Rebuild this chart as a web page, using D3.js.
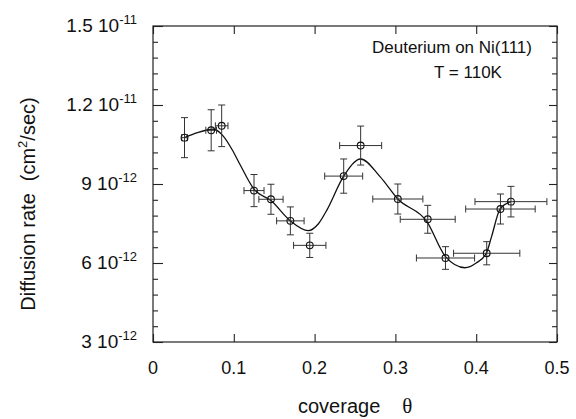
<!DOCTYPE html>
<html>
<head>
<meta charset="utf-8">
<script src="https://cdn.jsdelivr.net/npm/d3@7"></script>
<style>
  body { margin: 0; background: #fff; }
  text { font-family: "Liberation Sans", Arial, Helvetica, sans-serif; fill: #111; }
</style>
</head>
<body>
<div id="chart"></div>
<script>
// measured points (rate in units of 1e-12 cm^2/sec)
const coverage    = [0.039, 0.072, 0.085, 0.125, 0.146, 0.170, 0.194, 0.236, 0.257, 0.303, 0.340, 0.362, 0.413, 0.430, 0.443];
const rate        = [10.76, 11.04, 11.21, 8.75, 8.42, 7.60, 6.67, 9.30, 10.46, 8.43, 7.66, 6.19, 6.37, 8.05, 8.33];
const rateErr     = [0.76, 0.78, 0.79, 0.61, 0.57, 0.53, 0.46, 0.65, 0.74, 0.57, 0.53, 0.43, 0.44, 0.57, 0.58];
const coverageErr = [0.0035, 0.0066, 0.0078, 0.0124, 0.015, 0.017, 0.020, 0.0235, 0.026, 0.031, 0.034, 0.036, 0.041, 0.043, 0.0445];

// smooth guide curve
const curveX = [0.039, 0.055, 0.075, 0.087, 0.098, 0.108, 0.125, 0.146, 0.170, 0.192, 0.205, 0.215, 0.236, 0.257, 0.281, 0.303, 0.339, 0.362, 0.386, 0.400, 0.4125, 0.419, 0.4295, 0.443];
const curveY = [10.76, 10.95, 11.08, 10.82, 10.3, 9.72, 8.8, 8.37, 7.6, 7.23, 7.5, 8.0, 9.3, 9.95, 9.28, 8.43, 7.57, 6.24, 5.82, 6.0, 6.37, 7.0, 8.05, 8.33];

// tick labels
const xTicks = [0, 0.1, 0.2, 0.3, 0.4, 0.5];
const yTicks = [3, 6, 9, 12, 15];
const yTickMain = ["3 10", "6 10", "9 10", "1.2 10", "1.5 10"];
const yTickExp  = ["-12", "-12", "-12", "-11", "-11"];

const width = 576, height = 419;
const margin = { top: 26, right: 19, bottom: 77, left: 153 };
const w = width - margin.left - margin.right;
const h = height - margin.top - margin.bottom;

const svg = d3.select("#chart").append("svg")
  .attr("width", width)
  .attr("height", height);

const g = svg.append("g")
  .attr("transform", `translate(${margin.left},${margin.top})`);

const x = d3.scaleLinear().domain([0, 0.5]).range([0, w]);
const y = d3.scaleLinear().domain([3, 15]).range([h, 0]);

// frame
g.append("rect")
  .attr("width", w).attr("height", h)
  .attr("fill", "none").attr("stroke", "#222").attr("stroke-width", 1.2);

// x ticks, bottom and top, pointing inward
const axStyle = sel => {
  sel.select(".domain").remove();
  sel.selectAll("line").attr("stroke", "#222").attr("stroke-width", 1.1);
};
g.append("g").attr("transform", `translate(0,${h})`)
  .call(d3.axisTop(x).tickValues(xTicks).tickSize(8).tickFormat(""))
  .call(axStyle);
g.append("g")
  .call(d3.axisBottom(x).tickValues(xTicks).tickSize(8).tickFormat(""))
  .call(axStyle);

// y ticks: minor every 0.6, major every 3
const yMinor = d3.range(3, 15.01, 0.6).filter(v => Math.abs(v / 3 - Math.round(v / 3)) > 0.01);
g.append("g").call(d3.axisRight(y).tickValues(yMinor).tickSize(5).tickFormat("")).call(axStyle);
g.append("g").call(d3.axisRight(y).tickValues(yTicks).tickSize(10).tickFormat("")).call(axStyle);
g.append("g").attr("transform", `translate(${w},0)`)
  .call(d3.axisLeft(y).tickValues(yMinor).tickSize(5).tickFormat("")).call(axStyle);
g.append("g").attr("transform", `translate(${w},0)`)
  .call(d3.axisLeft(y).tickValues(yTicks).tickSize(8).tickFormat("")).call(axStyle);

// x tick labels
g.selectAll("text.xlab")
  .data(xTicks)
  .enter()
  .append("text")
  .attr("class", "xlab")
  .attr("x", d => x(d))
  .attr("y", h + 32)
  .attr("text-anchor", "middle")
  .attr("font-size", "18px")
  .text(d => d === 0 ? "0" : d3.format(".1f")(d));

// y tick labels with exponent
const ylab = g.selectAll("text.ylab")
  .data(yTicks)
  .enter()
  .append("text")
  .attr("class", "ylab")
  .attr("x", -16)
  .attr("y", d => y(d) + 6)
  .attr("text-anchor", "end")
  .attr("font-size", "19px");
ylab.append("tspan").text((d, i) => yTickMain[i]);
ylab.append("tspan").attr("dy", -8).attr("font-size", "13px").text((d, i) => yTickExp[i]);

// axis titles
const ytitle = svg.append("text")
  .attr("transform", `translate(35,${margin.top + h / 2 + 20}) rotate(-90)`)
  .attr("text-anchor", "middle")
  .attr("font-size", "20px");
ytitle.append("tspan").text("Diffusion rate");
ytitle.append("tspan").attr("dx", 12).text("(cm");
ytitle.append("tspan").attr("dy", -8).attr("font-size", "13px").text("2");
ytitle.append("tspan").attr("dy", 8).text("/sec)");

const xtitle = svg.append("text")
  .attr("x", 298)
  .attr("y", 413)
  .attr("font-size", "20px");
xtitle.append("tspan").text("coverage");
xtitle.append("tspan").attr("dx", 22)
  .style("font-family", "'Liberation Serif', 'Times New Roman', serif")
  .attr("font-size", "21px").text("θ");

// annotation (page coordinates)
svg.append("text")
  .attr("x", 452).attr("y", 53)
  .attr("text-anchor", "middle")
  .attr("font-size", "17px")
  .text("Deuterium on Ni(111)");
svg.append("text")
  .attr("x", 468).attr("y", 78)
  .attr("text-anchor", "middle")
  .attr("font-size", "17px")
  .text("T = 110K");

// guide curve
const pts = curveX.map((cx, i) => [cx, curveY[i]]);
g.append("path")
  .datum(pts)
  .attr("fill", "none")
  .attr("stroke", "#111")
  .attr("stroke-width", 1.3)
  .attr("d", d3.line().x(d => x(d[0])).y(d => y(d[1])).curve(d3.curveMonotoneX));

// data with error bars
const data = coverage.map((c, i) => ({ c: c, r: rate[i], er: rateErr[i], ec: coverageErr[i] }));
const cap = 3.5;
const bars = g.append("g").attr("stroke", "#333").attr("stroke-width", 1);
data.forEach(d => {
  const cx = x(d.c), cy = y(d.r);
  const y0 = y(d.r - d.er), y1 = y(d.r + d.er);
  const x0 = x(d.c - d.ec), x1 = x(d.c + d.ec);
  bars.append("line").attr("x1", cx).attr("x2", cx).attr("y1", y0).attr("y2", y1);
  bars.append("line").attr("x1", cx - cap).attr("x2", cx + cap).attr("y1", y0).attr("y2", y0);
  bars.append("line").attr("x1", cx - cap).attr("x2", cx + cap).attr("y1", y1).attr("y2", y1);
  bars.append("line").attr("x1", x0).attr("x2", x1).attr("y1", cy).attr("y2", cy);
  bars.append("line").attr("x1", x0).attr("x2", x0).attr("y1", cy - cap).attr("y2", cy + cap);
  bars.append("line").attr("x1", x1).attr("x2", x1).attr("y1", cy - cap).attr("y2", cy + cap);
});

g.selectAll("circle")
  .data(data)
  .enter()
  .append("circle")
  .attr("cx", d => x(d.c))
  .attr("cy", d => y(d.r))
  .attr("r", 3.4)
  .attr("fill", "none")
  .attr("stroke", "#111")
  .attr("stroke-width", 1.1);
</script>
</body>
</html>
